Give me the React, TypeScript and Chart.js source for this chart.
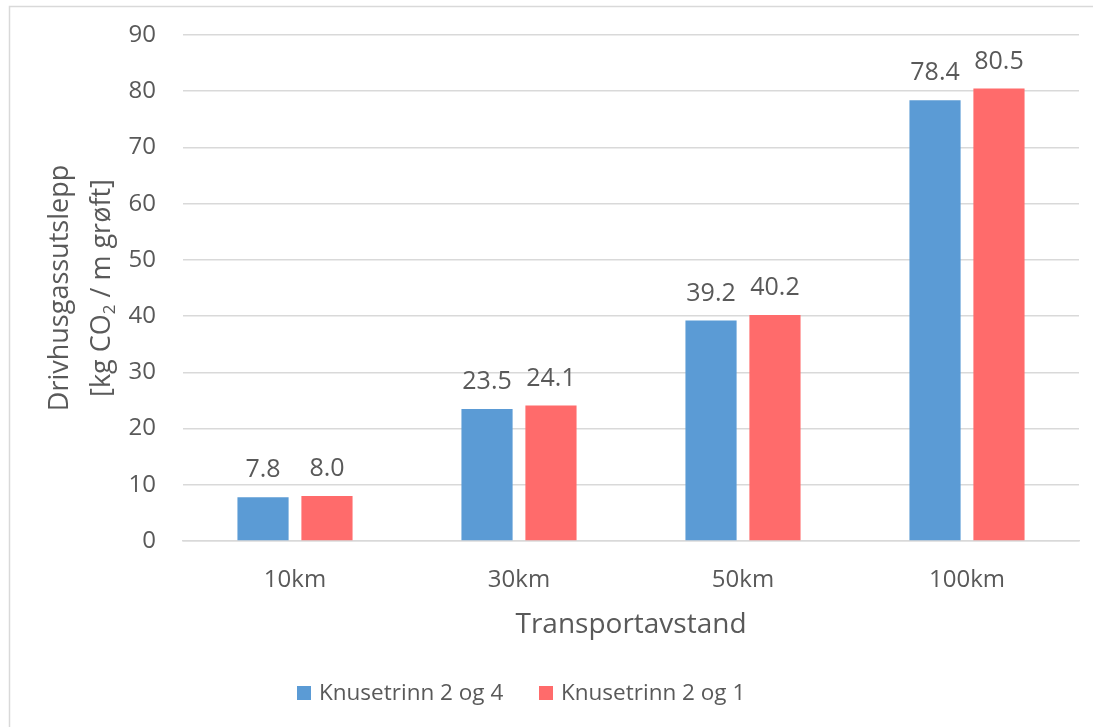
import React, { useEffect, useRef } from "react";
import { Chart, registerables } from "chart.js";

Chart.register(...registerables);

const categories = ["10km", "30km", "50km", "100km"];
const seriesNames = ["Knusetrinn 2 og 4", "Knusetrinn 2 og 1"];
const seriesA = [7.8, 23.5, 39.2, 78.4];
const seriesB = [8.0, 24.1, 40.2, 80.5];
const colors = ["#5B9BD5", "#FF6B6B"];
const yMin = 0;
const yMax = 90;
const yStep = 10;
const xTitle = "Transportavstand";
const yTitleLine1 = "Drivhusgassutslepp";
const yTitleLine2Parts = ["[kg CO", "2", " / m grøft]"];

const FONT = "'Open Sans', sans-serif";
const TEXT = "#595959";
const GRID = "#D9D9D9";

const decorPlugin = {
  id: "decor",
  beforeDraw(chart: any) {
    const ctx = chart.ctx;
    ctx.save();
    ctx.fillStyle = "#ffffff";
    ctx.fillRect(0, 0, chart.width, chart.height);
    ctx.strokeStyle = GRID;
    ctx.lineWidth = 1.5;
    ctx.beginPath();
    ctx.moveTo(9.5, chart.height + 5);
    ctx.lineTo(9.5, 6.5);
    ctx.lineTo(chart.width + 5, 6.5);
    ctx.stroke();
    ctx.restore();
  },
  afterDraw(chart: any) {
    const ctx = chart.ctx;
    const area = chart.chartArea;
    ctx.save();
    ctx.fillStyle = TEXT;
    ctx.font = `28px ${FONT}`;
    ctx.textAlign = "center";
    ctx.textBaseline = "middle";
    ctx.fillText(xTitle, (area.left + area.right) / 2, 625);
    const cy = (area.top + area.bottom) / 2;
    ctx.save();
    ctx.translate(60, cy);
    ctx.rotate(-Math.PI / 2);
    ctx.font = `27px ${FONT}`;
    ctx.textAlign = "center";
    ctx.textBaseline = "middle";
    ctx.fillText(yTitleLine1, 0, 0);
    ctx.restore();
    ctx.save();
    ctx.translate(102, cy);
    ctx.rotate(-Math.PI / 2);
    ctx.textAlign = "left";
    ctx.textBaseline = "middle";
    const big = `27px ${FONT}`;
    const small = `17px ${FONT}`;
    ctx.font = big;
    const w0 = ctx.measureText(yTitleLine2Parts[0]).width;
    const w2 = ctx.measureText(yTitleLine2Parts[2]).width;
    ctx.font = small;
    const w1 = ctx.measureText(yTitleLine2Parts[1]).width;
    let x = -(w0 + w1 + w2) / 2;
    ctx.font = big;
    ctx.fillText(yTitleLine2Parts[0], x, 0);
    x += w0;
    ctx.font = small;
    ctx.fillText(yTitleLine2Parts[1], x, 8);
    x += w1;
    ctx.font = big;
    ctx.fillText(yTitleLine2Parts[2], x, 0);
    ctx.restore();
    ctx.font = `22.5px ${FONT}`;
    ctx.textAlign = "left";
    ctx.textBaseline = "middle";
    const legendPos = [297, 539];
    chart.data.datasets.forEach((ds: any, i: number) => {
      ctx.fillStyle = ds.backgroundColor;
      ctx.fillRect(legendPos[i], 686, 14, 14);
      ctx.fillStyle = TEXT;
      ctx.fillText(ds.label, legendPos[i] + 22, 694);
    });
    ctx.restore();
  },
  afterDatasetsDraw(chart: any) {
    const ctx = chart.ctx;
    ctx.save();
    ctx.fillStyle = TEXT;
    ctx.font = `25px ${FONT}`;
    ctx.textAlign = "center";
    ctx.textBaseline = "middle";
    chart.data.datasets.forEach((ds: any, i: number) => {
      const meta = chart.getDatasetMeta(i);
      meta.data.forEach((el: any, j: number) => {
        ctx.fillText(Number(ds.data[j]).toFixed(1), el.x, el.y - 27);
      });
    });
    ctx.restore();
  },
};

export default function App() {
  const ref = useRef<HTMLCanvasElement | null>(null);
  useEffect(() => {
    if (!ref.current) return;
    const chart = new Chart(ref.current, {
      type: "bar",
      data: {
        labels: categories,
        datasets: [
          { label: seriesNames[0], data: seriesA, backgroundColor: colors[0] },
          { label: seriesNames[1], data: seriesB, backgroundColor: colors[1] },
        ],
      },
      options: {
        animation: false,
        responsive: false,
        maintainAspectRatio: false,
        layout: { padding: { top: 35, right: 14, bottom: 0, left: 0 } },
        datasets: {
          bar: { categoryPercentage: 0.571, barPercentage: 0.8 },
        },
        plugins: {
          legend: { display: false },
          tooltip: { enabled: false },
        },
        scales: {
          x: {
            grid: { display: false, drawTicks: false },
            border: { display: true, color: GRID, width: 1.5 },
            ticks: { color: TEXT, font: { family: FONT, size: 24 }, padding: 25 },
            afterFit: (s: any) => {
              s.height = 186;
            },
          },
          y: {
            min: yMin,
            max: yMax,
            grid: { color: GRID, lineWidth: 1.5, drawTicks: false },
            border: { display: false },
            ticks: {
              stepSize: yStep,
              color: TEXT,
              font: { family: FONT, size: 24, lineHeight: 0.4 },
              padding: 27,
            },
            afterFit: (s: any) => {
              s.width = 183;
            },
          },
        },
      },
      plugins: [decorPlugin],
    });
    return () => chart.destroy();
  }, []);
  return (
    <div style={{ position: "fixed", left: 0, top: 0, width: 1093, height: 727, background: "#fff" }}>
      <canvas ref={ref} width={1093} height={727} style={{ width: 1093, height: 727, display: "block" }} />
    </div>
  );
}
